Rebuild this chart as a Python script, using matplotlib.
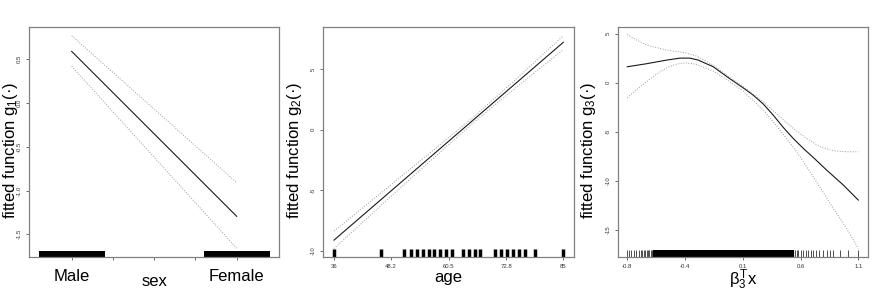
import matplotlib
matplotlib.use("Agg")
import matplotlib.pyplot as plt
import numpy as np

plt.rcParams['font.family'] = ['Liberation Sans', 'DejaVu Sans']
plt.rcParams['mathtext.fontset'] = 'custom'
plt.rcParams['mathtext.rm'] = 'Liberation Sans'
plt.rcParams['mathtext.it'] = 'Liberation Sans'
plt.rcParams['axes.unicode_minus'] = False

# ---- data: panel 1 (sex) ----
sex_labels = ['Male', 'Female']
sex_codes = [1, 2]
g1_fit = [0.59, -1.295]
g1_upper = [0.77, -0.91]
g1_lower = [0.42, -1.66]

# ---- data: panel 2 (age) ----
age_grid = [36, 48, 60, 66, 75, 85]
g2_fit = [-9.1, -5.11, -1.12, 0.88, 3.87, 7.2]
g2_upper = [-8.35, -4.6, -0.8, 1.1, 4.2, 7.75]
g2_lower = [-9.8, -5.55, -1.4, 0.65, 3.5, 6.6]
age_rug = [36, 46, 51, 52.5, 53.7, 55, 56.2, 57.4, 58.6, 59.9, 61.3, 63.5,
           64.8, 66.1, 67.3, 70.4, 71.6, 72.9, 74.2, 75.5, 76.8, 79, 85]
age_ticks = [36, 48.2, 60.5, 72.8, 85]

# ---- data: panel 3 (index beta_3^T x) ----
idx_fit_x = [-0.8, -0.641, -0.476, -0.367, -0.285, -0.216, -0.093, 0.044, 0.149,
             0.236, 0.319, 0.40, 0.483, 0.565, 0.648, 0.73, 0.84, 0.977, 1.1]
g3_fit = [1.63, 1.94, 2.31, 2.51, 2.51, 2.31, 1.63, 0.41, -0.48,
          -1.26, -2.17, -3.29, -4.55, -5.67, -6.69, -7.61, -8.9, -10.42, -11.95]
idx_up_x = [-0.8, -0.723, -0.641, -0.476, -0.326, -0.23, -0.093, 0.044, 0.149,
            0.319, 0.456, 0.565, 0.675, 0.785, 0.895, 1.004, 1.1]
g3_upper = [4.92, 4.35, 3.84, 3.33, 3.06, 2.72, 1.8, 0.54, -0.34,
            -1.94, -3.46, -4.65, -5.67, -6.52, -6.93, -7.03, -7.03]
idx_lo_x = [-0.8, -0.723, -0.641, -0.559, -0.476, -0.394, -0.326, -0.23, -0.093,
            0.044, 0.149, 0.319, 0.456, 0.593, 0.73, 0.895, 1.004, 1.1]
g3_lower = [-1.53, -0.68, 0.10, 0.88, 1.53, 1.9, 2.04, 1.87, 1.19,
            0.10, -0.81, -2.78, -4.82, -7.03, -9.58, -12.8, -14.84, -16.88]
# sparse rug values at both ends of the index range
idx_rug_sparse = [-0.800, -0.786, -0.767, -0.748, -0.726, -0.706, -0.690, -0.676, -0.663,
                  -0.652, -0.641, -0.630, -0.619, -0.608, -0.597, -0.586,
                  0.579, 0.593, 0.607, 0.626, 0.648, 0.670, 0.689, 0.711, 0.730, 0.752,
                  0.779, 0.807, 0.840, 0.867, 0.894, 0.949, 1.018, 1.100]
# dense rug values in the middle (drawn as a solid band in the original)
idx_rug_dense = [-0.578, -0.566, -0.557, -0.545, -0.533, -0.524, -0.512, -0.500, -0.491, -0.479,
                 -0.469, -0.456, -0.446, -0.436, -0.423, -0.414, -0.401, -0.392, -0.380, -0.368,
                 -0.359, -0.346, -0.337, -0.324, -0.315, -0.302, -0.293, -0.281, -0.271, -0.258,
                 -0.249, -0.236, -0.227, -0.214, -0.205, -0.192, -0.183, -0.170, -0.161, -0.148,
                 -0.139, -0.126, -0.117, -0.104, -0.095, -0.082, -0.073, -0.060, -0.051, -0.038,
                 -0.029, -0.016, -0.007, 0.006, 0.015, 0.028, 0.037, 0.050, 0.059, 0.072,
                 0.081, 0.094, 0.103, 0.116, 0.125, 0.138, 0.147, 0.160, 0.169, 0.182,
                 0.191, 0.204, 0.213, 0.226, 0.235, 0.248, 0.257, 0.270, 0.279, 0.292,
                 0.301, 0.314, 0.323, 0.336, 0.345, 0.358, 0.367, 0.380, 0.389, 0.402,
                 0.411, 0.424, 0.433, 0.446, 0.455, 0.468, 0.477, 0.490, 0.499, 0.512,
                 0.521, 0.534, 0.543, 0.556, 0.566]
idx_ticks = [-0.8, -0.325, 0.15, 0.625, 1.1]
idx_ticklabels = ['-0.8', '-0.4', '0.1', '0.6', '1.1']

frame_col = '#808080'
line_col = '#1a1a1a'
band_col = '#9a9a9a'


def style_axes(ax):
    for s in ax.spines.values():
        s.set_color(frame_col)
        s.set_linewidth(0.9)
    ax.tick_params(axis='both', length=2, width=0.6, color='#555555',
                   labelsize=4.3, labelcolor='#333333', pad=3)
    for lab in ax.get_yticklabels():
        lab.set_rotation(90)
        lab.set_va('center')


fig = plt.figure(figsize=(8.83, 2.91), dpi=100)
ax1 = fig.add_axes([0.0328, 0.1168, 0.2831, 0.7904])
ax2 = fig.add_axes([0.3658, 0.1168, 0.2843, 0.7904])
ax3 = fig.add_axes([0.6995, 0.1168, 0.2838, 0.7904])

# panel 1
ax1.plot(sex_codes, g1_fit, color=line_col, lw=0.8)
ax1.plot(sex_codes, g1_upper, color=band_col, lw=0.7, ls=':')
ax1.plot(sex_codes, g1_lower, color=band_col, lw=0.7, ls=':')
for c in sex_codes:
    ax1.axvspan(c - 0.2, c + 0.2, ymin=0, ymax=0.028, color='black', lw=0)
ax1.set_xlim(0.741, 2.256)
ax1.set_ylim(-1.76, 0.869)
ax1.set_yticks([-1.5, -1.0, -0.5, 0.0, 0.5], ['-1.5', '-1.0', '-0.5', '0.0', '0.5'])
ax1.set_xticks([1, 1.25, 1.5, 1.75, 2], ['Male', '', '', '', 'Female'])
style_axes(ax1)
ax1.tick_params(axis='x', labelsize=12, labelcolor='black', pad=6.5)
ax1.text(1.5, -0.126, 'sex', transform=ax1.get_xaxis_transform(),
         ha='center', va='baseline', fontsize=12)

# panel 2
ax2.plot([age_grid[0], age_grid[-1]], [g2_fit[0], g2_fit[-1]], color=line_col, lw=0.8)
ax2.plot(age_grid, g2_upper, color=band_col, lw=0.7, ls=':')
ax2.plot(age_grid, g2_lower, color=band_col, lw=0.7, ls=':')
ax2.vlines(age_rug, 0, 0.037, transform=ax2.get_xaxis_transform(), color='black', lw=2.5)
ax2.set_xlim(33.65, 87.29)
ax2.set_ylim(-10.49, 8.46)
ax2.set_yticks([-10, -5, 0, 5], ['-10', '-5', '0', '5'])
ax2.set_xticks(age_ticks, ['36', '48.2', '60.5', '72.8', '85'])
style_axes(ax2)
ax2.set_xlabel('age', fontsize=12, labelpad=1)

# panel 3
ax3.plot(idx_fit_x, g3_fit, color=line_col, lw=0.8)
ax3.plot(idx_up_x, g3_upper, color=band_col, lw=0.7, ls=':')
ax3.plot(idx_lo_x, g3_lower, color=band_col, lw=0.7, ls=':')
ax3.vlines(idx_rug_sparse, 0, 0.03, transform=ax3.get_xaxis_transform(), color='#333333', lw=0.6)
ax3.vlines(idx_rug_dense, 0, 0.03, transform=ax3.get_xaxis_transform(), color='black', lw=1.6)
ax3.set_xlim(-0.879, 1.182)
ax3.set_ylim(-17.75, 5.68)
ax3.set_yticks([-15, -10, -5, 0, 5], ['-15', '-10', '-5', '0', '5'])
ax3.set_xticks(idx_ticks, idx_ticklabels)
style_axes(ax3)
ax3.set_xlabel(r'$\beta_3^T$x', fontsize=12, labelpad=-1)

# y labels
fig.text(10.5 / 883, 1 - 150 / 291, 'fitted function g$_1$(·)', rotation=90,
         ha='center', va='center', fontsize=12)
fig.text(294 / 883, 1 - 150 / 291, 'fitted function g$_2$(·)', rotation=90,
         ha='center', va='center', fontsize=12)
fig.text(589 / 883, 1 - 150 / 291, 'fitted function g$_3$(·)', rotation=90,
         ha='center', va='center', fontsize=12)

fig.savefig('out.png', dpi=100, facecolor='white')
